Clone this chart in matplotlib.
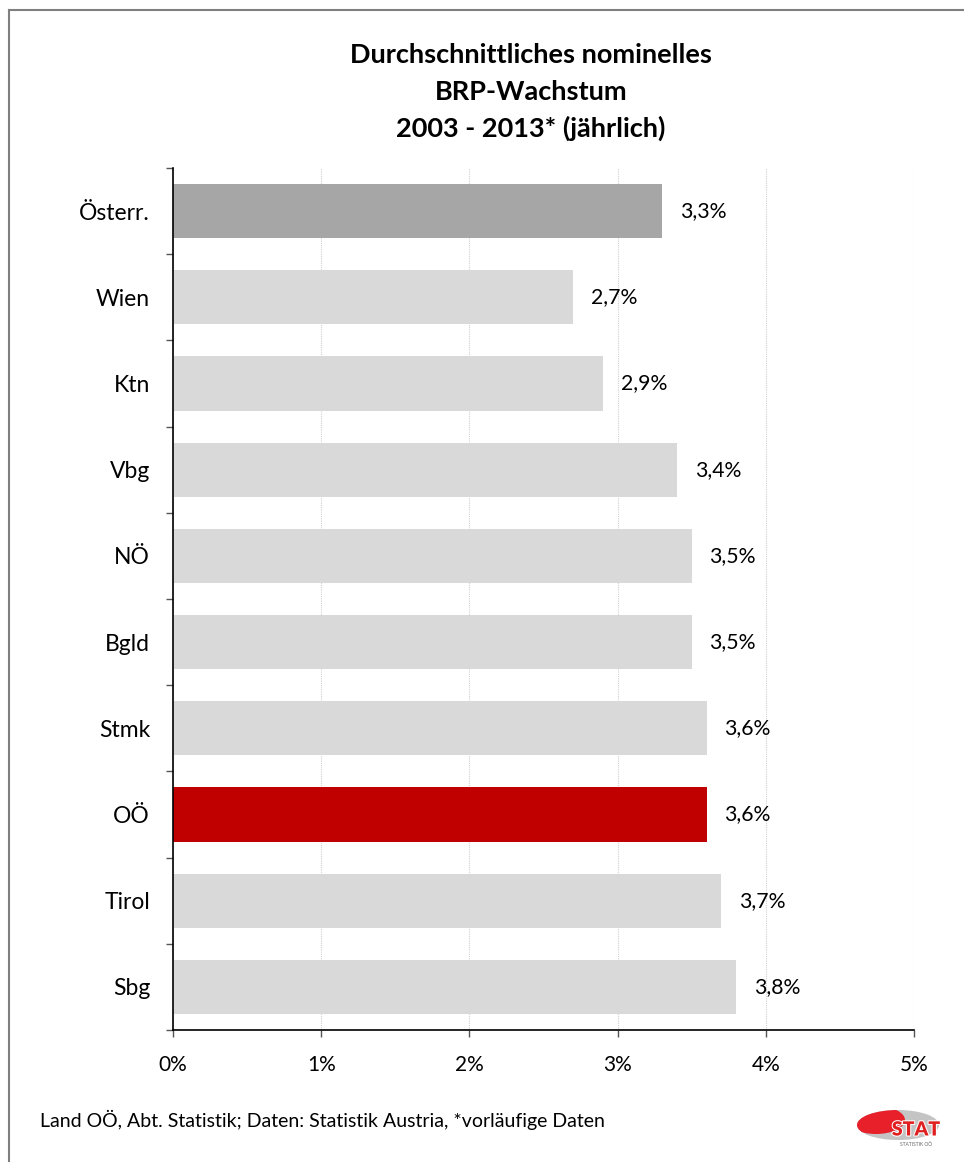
#!/usr/bin/env python3
import matplotlib
matplotlib.use('Agg')
import matplotlib.pyplot as plt
import matplotlib.patheffects as pe
from matplotlib.lines import Line2D
from matplotlib.patches import Ellipse

plt.rcParams['font.family'] = ['Lato', 'DejaVu Sans']

# data
regions = ['Österr.', 'Wien', 'Ktn', 'Vbg', 'NÖ', 'Bgld', 'Stmk', 'OÖ', 'Tirol', 'Sbg']
growth = [3.3, 2.7, 2.9, 3.4, 3.5, 3.5, 3.6, 3.6, 3.7, 3.8]
value_labels = ['3,3%', '2,7%', '2,9%', '3,4%', '3,5%', '3,5%', '3,6%', '3,6%', '3,7%', '3,8%']
x_ticks = [0, 1, 2, 3, 4, 5]
x_ticklabels = ['0%', '1%', '2%', '3%', '4%', '5%']

colors = []
for r in regions:
    if r == 'Österr.':
        colors.append('#A6A6A6')
    elif r == 'OÖ':
        colors.append('#C00000')
    else:
        colors.append('#D9D9D9')

fig = plt.figure(figsize=(9.64, 11.62), dpi=100)
ax = fig.add_axes([0.1795, 0.1136, 0.7687, 0.7418])

ypos = list(range(len(regions)))
ax.barh(ypos, growth, height=0.63, color=colors, zorder=2)
for y, v, lab in zip(ypos, growth, value_labels):
    ax.text(v + 0.12, y, lab, va='center', ha='left', fontsize=15.3, color='#000000')

ax.set_xlim(0, 5)
ax.set_ylim(9.5, -0.5)
ax.set_xticks(x_ticks)
ax.set_xticklabels(x_ticklabels, fontsize=15)
ax.set_yticks(ypos)
ax.set_yticklabels(regions, fontsize=16.5)
ax.set_yticks([i - 0.5 for i in range(len(regions) + 1)], minor=True)
ax.tick_params(axis='y', which='major', length=0, pad=16.5)
ax.tick_params(axis='y', which='minor', length=5, width=1, color='#555555', direction='out')
ax.tick_params(axis='x', which='major', length=5, width=1, color='#555555', direction='out', pad=13)
ax.xaxis.grid(True, color='#D0D0D0', linestyle=(0, (1, 1)), linewidth=0.8, zorder=0)
ax.set_axisbelow(True)
for s in ['top', 'right']:
    ax.spines[s].set_visible(False)
ax.spines['left'].set_linewidth(1.2)
ax.spines['bottom'].set_linewidth(1.2)

# title
title_lines = ['Durchschnittliches nominelles', 'BRP-Wachstum', '2003 - 2013* (jährlich)']
for line, ypx in zip(title_lines, [55, 92, 128]):
    fig.text(531 / 964, 1 - ypx / 1162, line, ha='center', va='center',
             fontsize=19.5, fontweight='bold')

# footer
fig.text(40 / 964, 1 - 1120 / 1162, 'Land OÖ, Abt. Statistik; Daten: Statistik Austria, *vorläufige Daten',
         ha='left', va='center', fontsize=14)

# border (top and left)
fig.add_artist(Line2D([9 / 964, 1], [1 - 10 / 1162, 1 - 10 / 1162], color='#7F7F7F', linewidth=1.5))
fig.add_artist(Line2D([9 / 964, 9 / 964], [0, 1 - 10 / 1162], color='#7F7F7F', linewidth=1.5))

# logo
lax = fig.add_axes([850 / 964, 1 - 1150 / 1162, 95 / 964, 50 / 1162])
lax.set_xlim(0, 95)
lax.set_ylim(50, 0)
lax.axis('off')
grey = Ellipse((48, 25), 82, 30, facecolor='#C4C4C4', edgecolor='none')
lax.add_patch(grey)
red = Ellipse((26, 20), 58, 28, facecolor='#E8202A', edgecolor='none')
lax.add_patch(red)
red.set_clip_path(grey)
lax.text(66, 30, 'STAT', ha='center', va='center', fontsize=14, fontweight='heavy',
         color='#E02020', path_effects=[pe.withStroke(linewidth=1.5, foreground='white')])
lax.text(66, 44, 'STATISTIK OÖ', ha='center', va='center', fontsize=3.5, color='#666666')

fig.savefig('out.png', dpi=100)
